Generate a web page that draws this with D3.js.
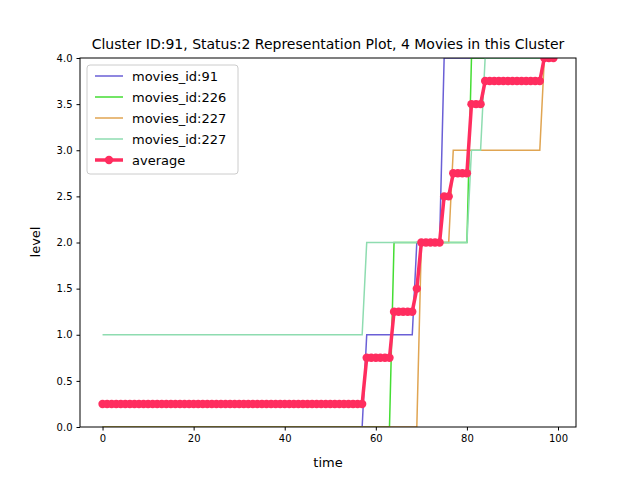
<!DOCTYPE html>
<html><head><meta charset="utf-8">
<script src="https://cdn.jsdelivr.net/npm/d3@7"></script>
<style>body{margin:0;background:#fff}text{font-family:"DejaVu Sans",sans-serif}</style>
</head><body><svg width="640" height="480"></svg>
<script>
// step changes: [time, level]
const names = ['movies_id:91', 'movies_id:226', 'movies_id:227', 'movies_id:227'];
const colors = ['#6a5fd6', '#44dd33', '#e0a552', '#8edcb0'];
const steps = [
  [[0, 0], [58, 1], [69, 2], [75, 4]],
  [[0, 0], [64, 2], [81, 4]],
  [[0, 0], [70, 2], [77, 3], [97, 4]],
  [[0, 1], [58, 2], [81, 3], [84, 4]]
];
const times = d3.range(100);

const series = steps.map(s => times.map(t => {
  let v = 0;
  s.forEach(d => { if (t >= d[0]) v = d[1]; });
  return v;
}));
const average = times.map((t, i) => d3.mean(series, s => s[i]));

const svg = d3.select('svg');
const m = {l: 80, r: 576, t: 58, b: 427};
const x = d3.scaleLinear().domain([-4.95, 103.95]).range([m.l, m.r]);
const y = d3.scaleLinear().domain([0, 4]).range([m.b, m.t]);

svg.append('defs').append('clipPath').attr('id', 'c')
  .append('rect').attr('x', m.l).attr('y', m.t).attr('width', m.r - m.l).attr('height', m.b - m.t);

const line = d3.line().x((d, i) => x(times[i])).y(d => y(d));
const g = svg.append('g').attr('clip-path', 'url(#c)');
series.forEach((s, k) => {
  g.append('path').attr('d', line(s)).attr('fill', 'none')
    .attr('stroke', colors[k]).attr('stroke-width', 1.5);
});
g.append('path').attr('d', line(average)).attr('fill', 'none')
  .attr('stroke', '#ff2d5f').attr('stroke-width', 3.5);
g.selectAll('circle').data(average).enter().append('circle')
  .attr('cx', (d, i) => x(times[i])).attr('cy', d => y(d)).attr('r', 4.2)
  .attr('fill', '#ff2d5f');

const xa = svg.append('g').attr('transform', `translate(0,${m.b})`)
  .call(d3.axisBottom(x).tickValues([0, 20, 40, 60, 80, 100]).tickSize(3.5).tickPadding(4));
const ya = svg.append('g').attr('transform', `translate(${m.l},0)`)
  .call(d3.axisLeft(y).tickValues(d3.range(0, 4.01, 0.5)).tickFormat(d3.format('.1f')).tickSize(3.5).tickPadding(4));
[xa, ya].forEach(a => {
  a.select('.domain').remove();
  a.selectAll('text').attr('font-size', 10).attr('fill', '#000').style('font-family', 'DejaVu Sans');
});
svg.append('rect').attr('x', m.l).attr('y', m.t).attr('width', m.r - m.l).attr('height', m.b - m.t)
  .attr('fill', 'none').attr('stroke', '#000').attr('stroke-width', 1);

svg.append('text').attr('x', 328).attr('y', 49).attr('text-anchor', 'middle').attr('font-size', 14)
  .text('Cluster ID:91, Status:2 Representation Plot, 4 Movies in this Cluster');
svg.append('text').attr('x', 328).attr('y', 467).attr('text-anchor', 'middle').attr('font-size', 13).text('time');
svg.append('text').attr('transform', 'translate(40,242) rotate(-90)').attr('text-anchor', 'middle')
  .attr('font-size', 13).text('level');

const lg = svg.append('g');
lg.append('rect').attr('x', 87).attr('y', 65).attr('width', 151).attr('height', 109).attr('rx', 3)
  .attr('fill', '#fff').attr('fill-opacity', 0.8).attr('stroke', '#ccc');
names.concat(['average']).forEach((n, k) => {
  const yy = 76 + k * 21;
  const c = k < 4 ? colors[k] : '#ff2d5f';
  lg.append('line').attr('x1', 95).attr('x2', 123).attr('y1', yy).attr('y2', yy)
    .attr('stroke', c).attr('stroke-width', k < 4 ? 1.5 : 3.5);
  if (k === 4) lg.append('circle').attr('cx', 109).attr('cy', yy).attr('r', 4.2).attr('fill', c);
  lg.append('text').attr('x', 132).attr('y', yy + 4.5).attr('font-size', 13).text(n);
});
</script></body></html>
